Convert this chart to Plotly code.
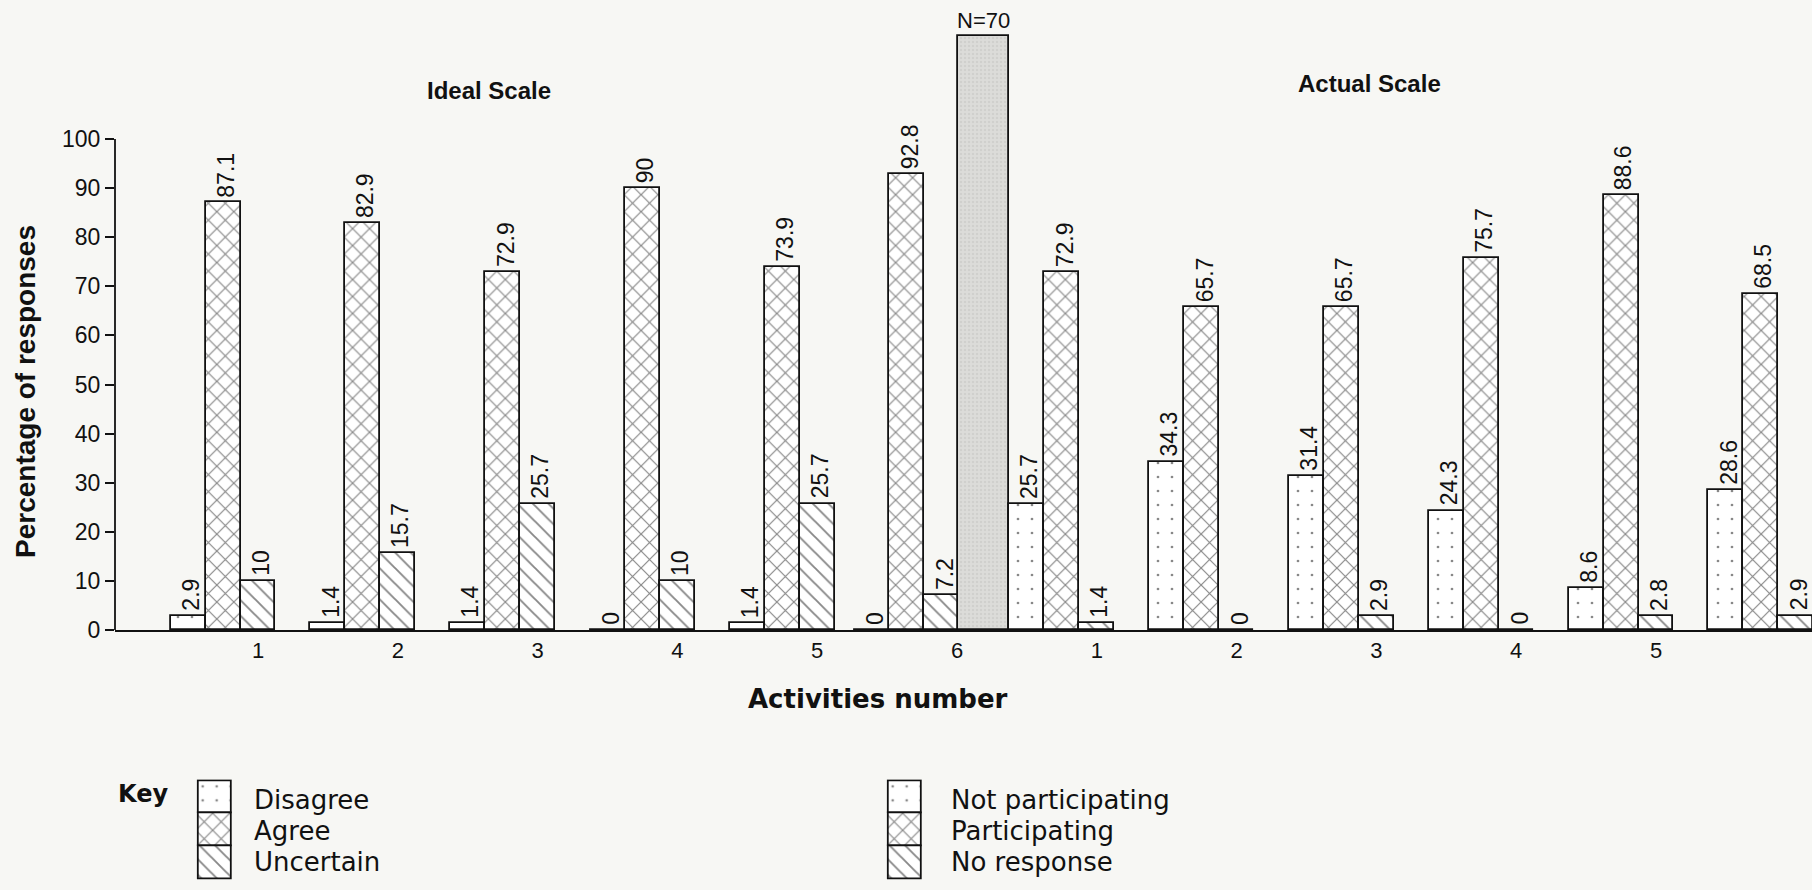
import plotly.graph_objects as go

# ---------------- data ----------------
activities = ["1", "2", "3", "4", "5", "6"]
ideal_disagree = [2.9, 1.4, 1.4, 0, 1.4, 0]
ideal_agree = [87.1, 82.9, 72.9, 90, 73.9, 92.8]
ideal_uncertain = [10, 15.7, 25.7, 10, 25.7, 7.2]

actual_not_participating = [25.7, 34.3, 31.4, 24.3, 8.6, 28.6]
actual_participating = [72.9, 65.7, 65.7, 75.7, 88.6, 68.5]
actual_no_response = [1.4, 0, 2.9, 0, 2.8, 2.9]
actual_tick_labels = ["1", "2", "3", "4", "5", ""]

sample_label = "N=70"
sample_bar_height = 121

y_ticks = [0, 10, 20, 30, 40, 50, 60, 70, 80, 90, 100]

# ---------------- layout constants ----------------
W, H = 1812, 890
BAR_W = 0.25
LAST_IDEAL_SHIFT = -0.11
FONT = "Liberation Sans, Arial, sans-serif"
WIDE = "DejaVu Sans, sans-serif"
BG = "#f7f7f4"
INK = "#111111"

X_LEFT_PX, Y0_PX, YTOP_PX, PPU = 115, 630, 8, 4.91
PERIOD_PX, TICK1_PX = 139.8, 258
x_min = 1 - (TICK1_PX - X_LEFT_PX) / PERIOD_PX
x_max = x_min + (W - X_LEFT_PX) / PERIOD_PX
y_max = (Y0_PX - YTOP_PX) / PPU

dots = dict(shape=".", size=14, solidity=0.03, fgcolor=INK, bgcolor="white")
cross = dict(shape="x", size=12, solidity=0.19, fgcolor=INK, bgcolor="white")
diag = dict(shape="\\", size=11, solidity=0.17, fgcolor=INK, bgcolor="white")
outline = dict(color=INK, width=1.8)

n = len(activities)
ideal_slots = [i + 1 + (LAST_IDEAL_SHIFT if i == n - 1 else 0) for i in range(n)]
actual_slots = [n + i + 1 for i in range(n)]

fig = go.Figure()
annotations = []


def add_series(slots, offset, values, pattern):
    xs = [s + offset for s in slots]
    fig.add_trace(go.Bar(
        x=xs, y=values, width=[BAR_W] * len(xs),
        marker=dict(color="white", pattern=pattern, line=outline),
        showlegend=False, hoverinfo="x+y"))
    for x, v in zip(xs, values):
        annotations.append(dict(
            x=x + 0.02, y=v, xref="x", yref="y", text=f"{v:g}",
            textangle=-90, showarrow=False, xanchor="center", yanchor="bottom",
            yshift=3, font=dict(family=FONT, size=23, color=INK)))


add_series(ideal_slots, -0.5, ideal_disagree, dots)
add_series(ideal_slots, -0.25, ideal_agree, cross)
add_series(ideal_slots, 0.0, ideal_uncertain, diag)

# sample-size separator bar
n_center = n + 0.19
fig.add_trace(go.Bar(
    x=[n_center], y=[sample_bar_height], width=[0.365],
    marker=dict(color="#d9d9d6", pattern=dict(shape=".", size=4, solidity=0.3,
                                               fgcolor="#c4c4c0", bgcolor="#dcdcd9"),
                line=outline),
    showlegend=False, hoverinfo="y"))
annotations.append(dict(x=n_center, y=sample_bar_height, xref="x", yref="y",
                        text=sample_label, showarrow=False, xanchor="center", yanchor="bottom",
                        yshift=1, font=dict(family=FONT, size=22, color=INK)))

add_series(actual_slots, -0.5, actual_not_participating, dots)
add_series(actual_slots, -0.25, actual_participating, cross)
add_series(actual_slots, 0.0, actual_no_response, diag)

# ---------------- key (legend swatches drawn as stacked bars) ----------------
KEY_TOP, KEY_BOT = 781, 879
TEXT_ROWS = [800, 831, 862]
KEY_PAD = 0.1   # axis padding so the swatch outline is not clipped


def add_key(xa, ya, labels, text_x_px):
    patterns = [dots, cross, diag]
    for k, (lab, pat) in enumerate(zip(labels, patterns)):
        fig.add_trace(go.Bar(
            x=[0], y=[1], base=[2 - k], width=[1], xaxis=xa, yaxis=ya,
            marker=dict(color="white", pattern=pat, line=outline),
            showlegend=False, hoverinfo="skip"))
        annotations.append(dict(
            x=text_x_px / W, y=1 - TEXT_ROWS[k] / H, xref="paper", yref="paper",
            text=lab, showarrow=False, xanchor="left", yanchor="middle",
            font=dict(family=WIDE, size=26, color=INK)))


add_key("x2", "y2", ["Disagree", "Agree", "Uncertain"], 252)
add_key("x3", "y3", ["Not participating", "Participating", "No response"], 949)

annotations += [
    dict(x=116 / W, y=1 - 794 / H, xref="paper", yref="paper", text="<b>Key</b>",
         showarrow=False, xanchor="left", yanchor="middle",
         font=dict(family=WIDE, size=24, color=INK)),
    dict(x=489 / W, y=1 - 90 / H, xref="paper", yref="paper", text="<b>Ideal Scale</b>",
         showarrow=False, xanchor="center", yanchor="middle",
         font=dict(family=FONT, size=24, color=INK)),
    dict(x=1369 / W, y=1 - 84 / H, xref="paper", yref="paper", text="<b>Actual Scale</b>",
         showarrow=False, xanchor="center", yanchor="middle",
         font=dict(family=FONT, size=24, color=INK)),
    dict(x=878 / W, y=1 - 699 / H, xref="paper", yref="paper", text="<b>Activities number</b>",
         showarrow=False, xanchor="center", yanchor="middle",
         font=dict(family=WIDE, size=26, color=INK)),
    dict(x=25 / W, y=1 - 392 / H, xref="paper", yref="paper", text="<b>Percentage of responses</b>",
         textangle=-90, showarrow=False, xanchor="center", yanchor="middle",
         font=dict(family=FONT, size=28, color=INK)),
]

key_x_rng = [-0.5 - KEY_PAD, 0.5 + KEY_PAD]
key_y_rng = [-0.05, 3.05]


def key_domain(left_px, right_px):
    # widen the pixel box so that the bar itself keeps its intended pixel size
    span = right_px - left_px
    pad = span * KEY_PAD
    return [(left_px - pad) / W, (right_px + pad) / W]


ky_span = KEY_BOT - KEY_TOP
ky_pad = ky_span * 0.05 / 3
key_y_domain = [1 - (KEY_BOT + ky_pad) / H, 1 - (KEY_TOP - ky_pad) / H]

fig.update_layout(
    width=W, height=H,
    margin=dict(l=0, r=0, t=0, b=0),
    paper_bgcolor=BG, plot_bgcolor=BG,
    barmode="overlay", bargap=0,
    font=dict(family=FONT, color=INK),
    annotations=annotations,
    shapes=[dict(type="line", xref="x domain", x0=0, x1=0, yref="y", y0=0, y1=100,
                 line=dict(color=INK, width=1.8))],
    xaxis=dict(domain=[X_LEFT_PX / W, 1], range=[x_min, x_max], automargin=False,
               tickvals=ideal_slots[:-1] + [n] + actual_slots,
               ticktext=activities + actual_tick_labels,
               showline=True, linecolor=INK, linewidth=1.8,
               ticks="outside", ticklen=0, tickcolor="rgba(0,0,0,0)",
               showgrid=False, zeroline=False,
               tickfont=dict(family=FONT, size=22, color=INK)),
    yaxis=dict(domain=[1 - Y0_PX / H, 1 - YTOP_PX / H], range=[0, y_max], automargin=False,
               tickvals=y_ticks, ticks="outside", ticklen=9, tickwidth=1.8, tickcolor=INK,
               showline=False, showgrid=False, zeroline=False,
               tickfont=dict(family=FONT, size=23, color=INK)),
    xaxis2=dict(domain=key_domain(199, 232), range=key_x_rng, visible=False),
    yaxis2=dict(domain=key_y_domain, range=key_y_rng, visible=False),
    xaxis3=dict(domain=key_domain(889, 922), range=key_x_rng, visible=False),
    yaxis3=dict(domain=key_y_domain, range=key_y_rng, visible=False),
)

fig.write_html(
    "out.html",
    config={"displayModeBar": False},
    post_script="document.body.style.margin='0px';document.body.style.background='%s';" % BG,
)
